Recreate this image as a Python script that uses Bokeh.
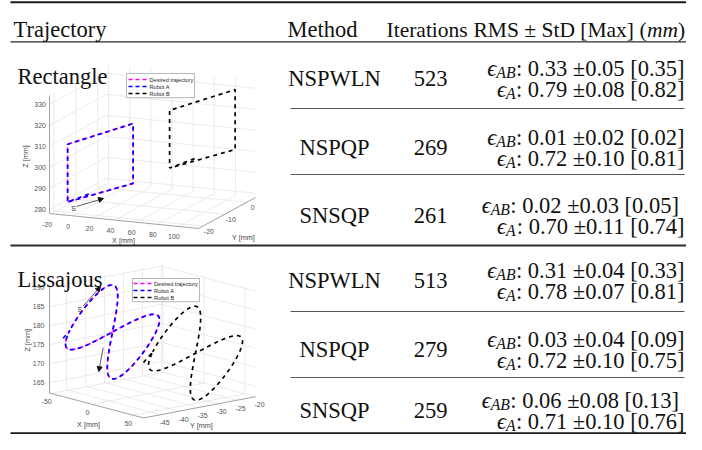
import numpy as np
from bokeh.plotting import figure
from bokeh.models import Range1d, Arrow, NormalHead
from bokeh.core.properties import value
from bokeh.embed import file_html
from bokeh.resources import INLINE

# ---------------- table data ----------------
header = ["Trajectory", "Method", "Iterations"]
traj_names = ["Rectangle", "Lissajous"]
methods = ["NSPWLN", "NSPQP", "SNSQP"]
colon_sep = ["", "", " "]          # SNSQP rows are typeset as "eps_AB : ..."
iters_rect = [523, 269, 261]
iters_liss = [513, 279, 259]
rms_ab_rect = [0.33, 0.01, 0.02]
std_ab_rect = [0.05, 0.02, 0.03]
max_ab_rect = [0.35, 0.02, 0.05]
rms_a_rect = [0.79, 0.72, 0.70]
std_a_rect = [0.08, 0.10, 0.11]
max_a_rect = [0.82, 0.81, 0.74]
rms_ab_liss = [0.31, 0.03, 0.06]
std_ab_liss = [0.04, 0.04, 0.08]
max_ab_liss = [0.33, 0.09, 0.13]
rms_a_liss = [0.78, 0.72, 0.71]
std_a_liss = [0.07, 0.10, 0.10]
max_a_liss = [0.81, 0.75, 0.76]

# ---------------- rectangle trajectory (mm) ----------------
rect_x = [-9, 53, 53, -9, -9]
rect_y = [-20, -20, -20, -20, -20]
rect_z = [283, 295, 323.5, 310.5, 283]
rect_a_start = [14.6, -20, 288.7]
rect_b_offset = [60, 17.6, 9.2]
rect_xticks = [-20, 0, 20, 40, 60, 80, 100]
rect_yticks = [-20, -10, 0]
rect_zticks = [280, 290, 300, 310, 320, 330]
rect_lo = [-22, -22, 278]
rect_hi = [119, 4, 334.2]
rect_arrow = [[-0.6, -20, 281.3], [25, -20, 286.4]]
rect_s_label = [-3.4, -20, 280.4]

# ---------------- lissajous trajectory (mm) ----------------
liss_center = [0, -44.1, 180.26]
liss_amp_u = [37.2, 0, -3.37]      # sin(t) component
liss_amp_v = [0, 6.19, 7.08]       # sin(2t) component
liss_join_t = -0.4 * np.pi
liss_a_start = [-45, -48.1, 176.0]
liss_b_offset = [0, 21.86, -9.72]
liss_xticks = [-50, 0, 50]
liss_yticks = [-45, -40, -35, -30, -25, -20]
liss_zticks = [165, 170, 175, 180, 185, 190]
liss_lo = [-52, -49.5, 162.3]
liss_hi = [63, -20, 190.5]
liss_arrows = [[[-35.85, -44.1, 185.0], [-14.7, -44.1, 191.3]],
               [[-11.4, -44.1, 175.5], [-16.8, -44.1, 168.9]]]
liss_s_label = [-40, -44.1, 183.9]

legend_labels = ["Desired trajectory", "Robot A", "Robot B"]
C_DES, C_A, C_B = "#ff00ff", "#0000ff", "#000000"

# ---------------- figure (data units = picture pixels) ----------------
W, H = 686, 434
p = figure(width=W, height=H, x_range=Range1d(0, W), y_range=Range1d(H, 0),
           x_axis_type=None, y_axis_type=None, toolbar_location=None,
           output_backend="svg", min_border=0)
p.outline_line_color = None
p.background_fill_color = "white"
p.border_fill_color = "white"

SERIF = "Liberation Serif"
SANS = "Liberation Sans"


def fsz(sz):
    return value(f"{sz:.2f}px")


def txt(x, y, s, size, align="left", baseline="middle", font=SERIF, style="normal",
        color="#111111", angle=0.0):
    p.text(x=[x], y=[y], text=[s], text_font=value(font), text_font_size=fsz(size),
           text_align=align, text_baseline=baseline, text_font_style=style,
           text_color=color, angle=angle)


def make_proj(origin, lo, ex, ey, ez, pivot=0.0, k=1.0):
    def f(X, Y, Z):
        X = np.asarray(X, float) - lo[0]
        Y = np.asarray(Y, float) - lo[1]
        Z = np.asarray(Z, float) - lo[2]
        sx = origin[0] + ex[0] * X + ey[0] * Y + ez[0] * Z
        sy = origin[1] + ex[1] * X + ey[1] * Y + ez[1] * Z
        return sx, pivot + (sy - pivot) * k
    f.vmap = lambda y: pivot + (y - pivot) * k
    return f


def draw_box(proj, lo, hi, xt, yt, zt, xoff, yoff, zoff, xlab, ylab, zlab):
    X0, Y0, Z0 = lo
    X1, Y1, Z1 = hi
    gx, gy = [], []

    def seg(a, b, lx, ly):
        sx, sy = proj([a[0], b[0]], [a[1], b[1]], [a[2], b[2]])
        lx.append(list(sx)); ly.append(list(sy))
    for x in xt:
        seg((x, Y0, Z0), (x, Y1, Z0), gx, gy)
        seg((x, Y1, Z0), (x, Y1, Z1), gx, gy)
    for y in yt:
        seg((X0, y, Z0), (X1, y, Z0), gx, gy)
        seg((X0, y, Z0), (X0, y, Z1), gx, gy)
    for z in zt:
        seg((X0, Y0, z), (X0, Y1, z), gx, gy)
        seg((X0, Y1, z), (X1, Y1, z), gx, gy)
    p.multi_line(gx, gy, line_color="#e2e2e2", line_width=0.7)
    ax, ay = [], []
    seg((X0, Y0, Z0), (X1, Y0, Z0), ax, ay)
    seg((X1, Y0, Z0), (X1, Y1, Z0), ax, ay)
    seg((X0, Y0, Z0), (X0, Y0, Z1), ax, ay)
    p.multi_line(ax, ay, line_color="#8a8a8a", line_width=0.8)
    tc = "#555555"
    for x in xt:
        sx, sy = proj(x, Y0, Z0)
        txt(float(sx) + xoff[0], float(sy) + xoff[1], str(x), 7, align="center", font=SANS, color=tc)
    for y in yt:
        sx, sy = proj(X1, y, Z0)
        txt(float(sx) + yoff[0], float(sy) + yoff[1], str(y), 7, align="center", font=SANS, color=tc)
    for z in zt:
        sx, sy = proj(X0, Y0, z)
        txt(float(sx) + zoff[0], float(sy) + zoff[1], str(z), 7, align="right", font=SANS, color=tc)
    txt(xlab[0], proj.vmap(xlab[1]), "X [mm]", 7.2, align="center", font=SANS, color="#444444")
    txt(ylab[0], proj.vmap(ylab[1]), "Y [mm]", 7.2, align="center", font=SANS, color="#444444")
    txt(zlab[0], proj.vmap(zlab[1]), "Z [mm]", 7.2, align="center", font=SANS, color="#444444",
        angle=np.pi / 2)


def dashed(sx, sy, color, offset=0):
    p.line(sx, sy, line_color=color, line_width=1.7, line_dash="4 4",
           line_dash_offset=offset)


def legend(x0, y0, x1, rows, xs0, xs1, xt):
    p.quad(left=[x0], right=[x1], top=[y0], bottom=[rows[-1] + (rows[1] - rows[0]) * 0.6],
           fill_color="white", line_color="#9a9a9a", line_width=0.7)
    for yy, lab, col in zip(rows, legend_labels, [C_DES, C_A, C_B]):
        p.line([xs0, xs1], [yy, yy], line_color=col, line_width=1.3, line_dash="4 3")
        txt(xt, yy, lab, 5.6, font=SANS, color="#262626")


def arrow(proj, a, b):
    sx0, sy0 = proj(*a)
    sx1, sy1 = proj(*b)
    p.add_layout(Arrow(end=NormalHead(size=5, fill_color="#111111", line_color="#111111"),
                       x_start=float(sx0), y_start=float(sy0), x_end=float(sx1), y_end=float(sy1),
                       line_color="#333333", line_width=0.8))

# ---------------- rectangle plot ----------------
rproj = make_proj((49, 213), rect_lo, (149 / 141, 15 / 141), (57 / 26, -31 / 26), (0, -2.1))
draw_box(rproj, rect_lo, rect_hi, rect_xticks, rect_yticks, rect_zticks,
         (-4.5, 10.5), (6, 5.5), (-3.5, 0), (123, 240), (243, 237), (25, 156))
rx = np.array(rect_x, float); ry = np.array(rect_y, float); rz = np.array(rect_z, float)
ax_ = np.concatenate([[rect_a_start[0]], rx]); ay_ = np.concatenate([[rect_a_start[1]], ry])
az_ = np.concatenate([[rect_a_start[2]], rz])
sx, sy = rproj(ax_ + rect_b_offset[0], ay_ + rect_b_offset[1], az_ + rect_b_offset[2])
dashed(sx, sy, C_B)
sx, sy = rproj(rx, ry, rz)
dashed(sx, sy, C_DES)
sx, sy = rproj(ax_, ay_, az_)
dashed(sx, sy, C_A, offset=4)
arrow(rproj, *rect_arrow)
sx, sy = rproj(*rect_s_label)
txt(float(sx), float(sy), "S", 7, align="center", font=SANS, color="#333333")
legend(126, 73, 194, [79, 86, 93], 128, 147, 149)

# ---------------- lissajous plot ----------------
lproj = make_proj((49, 403), liss_lo, (94 / 115, 27 / 115), (112 / 29.5, -23 / 29.5), (0, -4.12),
                  pivot=263, k=0.925)
draw_box(lproj, liss_lo, liss_hi, liss_xticks, liss_yticks, liss_zticks,
         (-4.5, 8), (4, 8), (-5, 0), (88, 437), (201, 438), (26.5, 346))
t = np.linspace(0, 2 * np.pi, 241)


def liss(tt, c, u, v):
    return [c[k] + u[k] * np.sin(tt) + v[k] * np.sin(2 * tt) for k in range(3)]


lx, ly, lz = liss(t, liss_center, liss_amp_u, liss_amp_v)
ta = liss_join_t + t
lax, lay, laz = [np.concatenate([[liss_a_start[k]], arr]) for k, arr in
                 enumerate(liss(ta, liss_center, liss_amp_u, liss_amp_v))]
sx, sy = lproj(lax + liss_b_offset[0], lay + liss_b_offset[1], laz + liss_b_offset[2])
dashed(sx, sy, C_B)
sx, sy = lproj(lx, ly, lz)
dashed(sx, sy, C_DES)
sx, sy = lproj(lax, lay, laz)
dashed(sx, sy, C_A, offset=4)
for a, b in liss_arrows:
    arrow(lproj, a, b)
sx, sy = lproj(*liss_s_label)
txt(float(sx), float(sy), "S", 7, align="center", font=SANS, color="#333333")
legend(132, 278, 199, [283, 290, 297], 133, 152, 153.5)

# ---------------- table ----------------
F = 22.5
FH = 21.5
TW = {' ': 250, '(': 333, ')': 333, '.': 250, ':': 278, '[': 333, ']': 333, '\u00b1': 564,
      'R': 667, 'M': 889, 'S': 556, 't': 278, 'D': 722, 'a': 444, 'x': 500}
TWI = {'A': 611, 'B': 611}


def tw(s, size):
    return sum(TW.get(c, 500) for c in s) / 1000.0 * size


def rule(y, x0, x1, w, col):
    p.line([x0, x1], [y, y], line_color=col, line_width=w)


rule(1.8, 10, 686, 2.0, "#1a1a1a")
rule(41.3, 10, 686, 1.3, "#2a2a2a")
rule(245, 10, 686, 2.0, "#2a2a2a")
rule(432.8, 10, 686, 2.0, "#1a1a1a")
for yy in [108, 174, 311, 377]:
    rule(yy, 290, 684, 1.0, "#555555")

hy = 22 + 0.331 * F
txt(13, hy, header[0], F, baseline="alphabetic")
txt(287, hy, header[1], F, baseline="alphabetic")
txt(386, hy, header[2], FH, baseline="alphabetic")
h4 = "RMS \u00b1 StD [Max] ("
x4 = 473
txt(x4, hy, h4, FH, baseline="alphabetic")
txt(x4 + tw(h4, FH), hy, "mm", FH, baseline="alphabetic", style="italic")
txt(x4 + tw(h4, FH) + 1.444 * FH, hy, ")", FH, baseline="alphabetic")

XR = 684


def rms_line(cy, sub, sep, r, s, m):
    main = f"{sep}: {r:.2f} \u00b1{s:.2f} [{m:.2f}]"
    wm = tw(main, F)
    fsub = 0.7 * F
    ws = sum(TWI[c] for c in sub) / 1000.0 * fsub
    base = cy + 0.331 * F
    txt(XR, base, main, F, align="right", baseline="alphabetic")
    txt(XR - wm - ws, base + 0.2 * F, sub, fsub, baseline="alphabetic", style="italic")
    txt(XR - wm - ws, base, "\u03f5", F, align="right", baseline="alphabetic", style="italic")


sections = [
    (traj_names[0], 69, [71, 140, 208], iters_rect,
     rms_ab_rect, std_ab_rect, max_ab_rect, rms_a_rect, std_a_rect, max_a_rect),
    (traj_names[1], 272, [273, 342, 403], iters_liss,
     rms_ab_liss, std_ab_liss, max_ab_liss, rms_a_liss, std_a_liss, max_a_liss),
]
for name, ny, rows, its, rab, sab, mab, ra, sa, ma in sections:
    txt(17, ny + 0.331 * F, name, F, baseline="alphabetic")
    for i, cy in enumerate(rows):
        txt(334, cy + 0.331 * F, methods[i], F, align="center", baseline="alphabetic")
        txt(430, cy + 0.331 * F, str(its[i]), F, align="center", baseline="alphabetic")
        rms_line(cy - 10.5, "AB", colon_sep[i], rab[i], sab[i], mab[i])
        rms_line(cy + 10.5, "A", "", ra[i], sa[i], ma[i])

open("out.html", "w").write(file_html(p, INLINE))
